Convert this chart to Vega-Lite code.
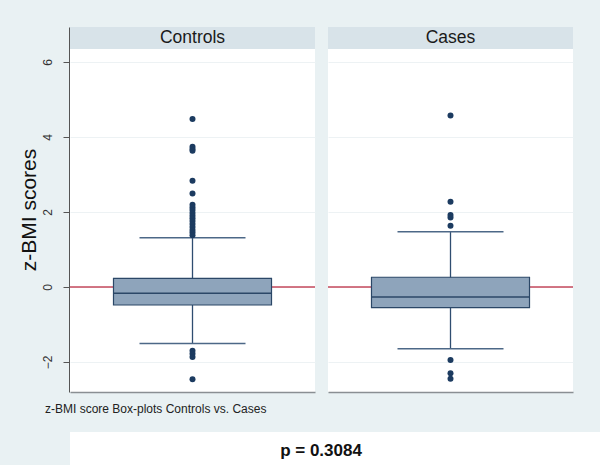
{
  "$schema": "https://vega.github.io/schema/vega-lite/v6.json",
  "background": "#e9f1f3",
  "padding": {"left": 18, "top": 27, "right": 0, "bottom": 0},
  "config": {
    "font": "Liberation Sans",
    "view": {"stroke": null}
  },
  "spacing": 17,
  "datasets": {
    "stats": [
      {"group": "Controls", "kind": "box", "q1": -0.48, "median": -0.17, "q3": 0.23, "lo": -1.51, "hi": 1.31},
      {"group": "Cases", "kind": "box", "q1": -0.55, "median": -0.27, "q3": 0.26, "lo": -1.65, "hi": 1.47},
      {"group": "Controls", "kind": "out", "value": 4.48},
      {"group": "Controls", "kind": "out", "value": 3.74},
      {"group": "Controls", "kind": "out", "value": 3.68},
      {"group": "Controls", "kind": "out", "value": 3.63},
      {"group": "Controls", "kind": "out", "value": 2.83},
      {"group": "Controls", "kind": "out", "value": 2.49},
      {"group": "Controls", "kind": "out", "value": 2.19},
      {"group": "Controls", "kind": "out", "value": 2.12},
      {"group": "Controls", "kind": "out", "value": 2.05},
      {"group": "Controls", "kind": "out", "value": 1.97},
      {"group": "Controls", "kind": "out", "value": 1.9},
      {"group": "Controls", "kind": "out", "value": 1.83},
      {"group": "Controls", "kind": "out", "value": 1.76},
      {"group": "Controls", "kind": "out", "value": 1.68},
      {"group": "Controls", "kind": "out", "value": 1.6},
      {"group": "Controls", "kind": "out", "value": 1.52},
      {"group": "Controls", "kind": "out", "value": 1.45},
      {"group": "Controls", "kind": "out", "value": 1.38},
      {"group": "Controls", "kind": "out", "value": -1.7},
      {"group": "Controls", "kind": "out", "value": -1.78},
      {"group": "Controls", "kind": "out", "value": -1.87},
      {"group": "Controls", "kind": "out", "value": -2.46},
      {"group": "Cases", "kind": "out", "value": 4.57},
      {"group": "Cases", "kind": "out", "value": 2.27},
      {"group": "Cases", "kind": "out", "value": 1.92},
      {"group": "Cases", "kind": "out", "value": 1.85},
      {"group": "Cases", "kind": "out", "value": 1.63},
      {"group": "Cases", "kind": "out", "value": -1.95},
      {"group": "Cases", "kind": "out", "value": -2.3},
      {"group": "Cases", "kind": "out", "value": -2.45}
    ]
  },
  "vconcat": [
    {
      "data": {"name": "stats"},
      "title": {
        "text": "z-BMI score Box-plots Controls vs. Cases",
        "orient": "bottom",
        "anchor": "start",
        "frame": "group",
        "dx": -25,
        "offset": 12,
        "fontSize": 12,
        "fontWeight": "normal",
        "color": "#222222"
      },
      "facet": {
        "column": {
          "field": "group",
          "type": "nominal",
          "sort": ["Controls", "Cases"],
          "header": {"title": null, "labels": false, "labelPadding": 0, "titlePadding": 0}
        }
      },
      "spacing": 11,
      "resolve": {"scale": {"x": "independent"}},
      "spec": {
        "width": 245,
        "height": 365,
        "view": {"fill": "white", "stroke": null},
        "encoding": {
          "x": {
            "field": "group",
            "type": "nominal",
            "scale": {"paddingInner": 0, "paddingOuter": 0},
            "axis": {"labels": false, "ticks": false, "title": null, "domain": true, "domainColor": "#8a8f93", "domainWidth": 1.6, "grid": false}
          }
        },
        "layer": [
          {
            "transform": [{"filter": "datum.kind === 'box'"}],
            "mark": {"type": "rect", "fill": "#d8e3e9"},
            "encoding": {
              "x": null,
              "y": {
                "datum": 6.347,
                "type": "quantitative",
                "scale": {"domain": [-2.8, 6.933], "nice": false, "zero": false},
                "axis": {
                  "values": [-2, 0, 2, 4, 6],
                  "title": "z-BMI scores",
                  "titleFontSize": 21,
                  "titleFontWeight": "normal",
                  "titleColor": "#111111",
                  "titlePadding": 2,
                  "labelAngle": -90,
                  "labelFontSize": 12,
                  "labelColor": "#333333",
                  "labelPadding": 9,
                  "tickSize": 6,
                  "tickColor": "#555555",
                  "domainColor": "#555555",
                  "grid": true,
                  "gridColor": "#edf2f4",
                  "gridWidth": 1
                }
              },
              "y2": {"datum": 6.933}
            }
          },
          {
            "transform": [{"filter": "datum.kind === 'box'"}],
            "mark": {"type": "text", "fontSize": 17.5, "color": "#1a1a1a"},
            "encoding": {
              "x": null,
              "y": {"datum": 6.64, "type": "quantitative"},
              "text": {"field": "group"}
            }
          },
          {
            "transform": [{"filter": "datum.kind === 'box'"}],
            "mark": {"type": "rule", "color": "#c4485c", "strokeWidth": 1.3},
            "encoding": {
              "x": null,
              "y": {"datum": 0, "type": "quantitative"}
            }
          },
          {
            "transform": [{"filter": "datum.kind === 'box'"}],
            "mark": {"type": "rule", "color": "#2f4d70", "strokeWidth": 1.3},
            "encoding": {
              "y": {"field": "lo", "type": "quantitative"},
              "y2": {"field": "hi"}
            }
          },
          {
            "transform": [{"filter": "datum.kind === 'box'"}],
            "mark": {"type": "tick", "color": "#4d6887", "size": 106, "thickness": 1.5, "opacity": 1},
            "encoding": {
              "y": {"field": "lo", "type": "quantitative"}
            }
          },
          {
            "transform": [{"filter": "datum.kind === 'box'"}],
            "mark": {"type": "tick", "color": "#4d6887", "size": 106, "thickness": 1.5, "opacity": 1},
            "encoding": {
              "y": {"field": "hi", "type": "quantitative"}
            }
          },
          {
            "transform": [{"filter": "datum.kind === 'box'"}],
            "mark": {"type": "bar", "width": {"band": 0.645}, "fill": "#8ea4bb", "stroke": "#2b4767", "strokeWidth": 1.2, "opacity": 1},
            "encoding": {
              "y": {"field": "q1", "type": "quantitative"},
              "y2": {"field": "q3"}
            }
          },
          {
            "transform": [{"filter": "datum.kind === 'box'"}],
            "mark": {"type": "tick", "color": "#2b4767", "size": 158, "thickness": 1.5, "opacity": 1},
            "encoding": {
              "y": {"field": "median", "type": "quantitative"}
            }
          },
          {
            "transform": [{"filter": "datum.kind === 'out'"}],
            "mark": {"type": "point", "filled": true, "size": 36, "color": "#1c3b60", "opacity": 1},
            "encoding": {
              "y": {"field": "value", "type": "quantitative"}
            }
          }
        ]
      }
    },
    {
      "data": {"values": [{"label": "p = 0.3084"}]},
      "width": 530,
      "height": 33,
      "view": {"fill": "white", "stroke": null},
      "mark": {"type": "text", "fontSize": 17, "fontWeight": "bold", "color": "#111111", "dx": -14, "dy": 2},
      "encoding": {"text": {"field": "label"}}
    }
  ]
}
